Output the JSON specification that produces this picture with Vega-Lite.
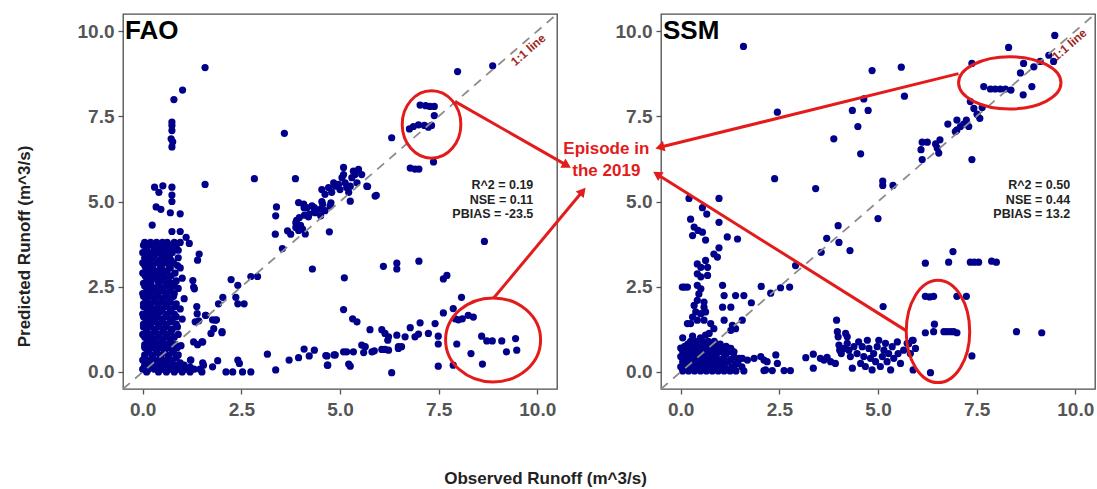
{
"$schema":"https://vega.github.io/schema/vega-lite/v6.json",
"background":"white",
"padding":{"left":14,"top":12,"right":2,"bottom":0},
"bounds":"flush",
"spacing":104,
"config":{
 "font":"Liberation Sans",
 "view":{"stroke":"#4d4d4d","strokeWidth":1.3,"fill":"white"},
 "axis":{"domain":false,"grid":false,"tickColor":"#555","tickSize":5,"tickWidth":1.3,"labelColor":"#555","labelFontSize":19,"labelFont":"Liberation Sans","labelFontWeight":"bold","labelFlush":false,"labelOverlap":false,"titleFont":"Liberation Sans","titleFontSize":17,"titleFontWeight":"bold","titleColor":"#222"},
 "axisX":{"labelPadding":6},
 "axisY":{"labelPadding":4}
},
"datasets":{
"fao":[
{"obs":1.58,"pred":8.93},{"obs":1.01,"pred":8.27},{"obs":0.79,"pred":7.99},{"obs":0.74,"pred":7.33},{"obs":0.74,"pred":7.23},{"obs":0.74,"pred":7.08},{"obs":0.72,"pred":6.84},{"obs":0.76,"pred":6.75},{"obs":0.74,"pred":6.6},{"obs":3.59,"pred":7.0},{"obs":2.83,"pred":5.67},{"obs":3.87,"pred":5.67},{"obs":1.58,"pred":5.5},{"obs":0.3,"pred":5.42},{"obs":0.51,"pred":5.46},{"obs":0.41,"pred":5.27},{"obs":0.74,"pred":5.42},{"obs":0.74,"pred":5.19},{"obs":0.74,"pred":5.0},
{"obs":7.98,"pred":8.81},{"obs":8.87,"pred":8.98},{"obs":7.03,"pred":7.83},{"obs":7.17,"pred":7.81},{"obs":7.28,"pred":7.79},{"obs":7.39,"pred":7.79},{"obs":7.39,"pred":7.52},{"obs":7.32,"pred":7.23},{"obs":7.24,"pred":7.18},{"obs":7.14,"pred":7.23},{"obs":6.99,"pred":7.25},{"obs":6.86,"pred":7.2},{"obs":6.76,"pred":7.13},{"obs":6.31,"pred":6.87},{"obs":7.37,"pred":6.16},{"obs":6.78,"pred":5.98},{"obs":6.9,"pred":5.95},{"obs":7.0,"pred":5.95},{"obs":5.7,"pred":5.44},{"obs":5.92,"pred":5.18},
{"obs":3.95,"pred":4.97},{"obs":4.08,"pred":4.92},{"obs":4.16,"pred":4.82},{"obs":4.29,"pred":4.87},{"obs":4.37,"pred":4.67},{"obs":4.5,"pred":4.77},{"obs":4.54,"pred":5.35},{"obs":4.62,"pred":5.21},{"obs":4.71,"pred":5.41},{"obs":4.79,"pred":5.27},{"obs":4.84,"pred":5.55},{"obs":4.88,"pred":5.45},{"obs":4.96,"pred":5.5},{"obs":5.0,"pred":5.35},{"obs":5.05,"pred":5.7},{"obs":5.09,"pred":5.79},{"obs":5.13,"pred":5.55},{"obs":5.17,"pred":5.41},{"obs":5.22,"pred":5.27},{"obs":5.26,"pred":5.45},{"obs":5.3,"pred":5.7},{"obs":5.34,"pred":5.89},{"obs":5.38,"pred":5.79},{"obs":5.43,"pred":5.55},{"obs":5.47,"pred":5.94},{"obs":5.55,"pred":5.79},{"obs":5.09,"pred":6.0},{"obs":5.26,"pred":5.01},{"obs":5.68,"pred":5.45},{"obs":5.89,"pred":5.16},{"obs":4.54,"pred":5.0},{"obs":4.62,"pred":4.73},{"obs":4.75,"pred":4.87},
{"obs":3.9,"pred":4.45},{"obs":4.0,"pred":4.3},{"obs":4.1,"pred":4.6},{"obs":3.95,"pred":4.15},{"obs":4.12,"pred":4.05},{"obs":4.2,"pred":4.55},{"obs":4.35,"pred":4.7},
{"obs":3.39,"pred":4.84},{"obs":3.37,"pred":4.58},{"obs":3.36,"pred":4.04},{"obs":3.54,"pred":3.62},{"obs":3.67,"pred":4.14},{"obs":3.75,"pred":4.04},{"obs":3.88,"pred":4.24},{"obs":3.97,"pred":4.53},{"obs":3.88,"pred":4.38},{"obs":4.05,"pred":4.19},{"obs":4.09,"pred":4.82},{"obs":4.22,"pred":4.63},{"obs":4.35,"pred":4.82},{"obs":4.51,"pred":4.58},{"obs":4.56,"pred":4.92},{"obs":4.77,"pred":4.96},{"obs":4.3,"pred":3.02},{"obs":4.73,"pred":4.11},
{"obs":0.34,"pred":4.84},{"obs":0.46,"pred":4.77},{"obs":0.7,"pred":4.67},{"obs":0.95,"pred":4.64},{"obs":0.24,"pred":4.31},{"obs":0.74,"pred":4.12},{"obs":0.95,"pred":4.12},{"obs":1.1,"pred":3.95},{"obs":1.18,"pred":3.77},{"obs":1.43,"pred":3.46},{"obs":1.39,"pred":3.28},{"obs":1.27,"pred":2.68},{"obs":1.31,"pred":2.44},{"obs":1.05,"pred":2.15},{"obs":1.37,"pred":1.92},{"obs":1.29,"pred":2.49},{"obs":1.38,"pred":1.71},{"obs":1.33,"pred":1.47},{"obs":1.42,"pred":1.5},{"obs":1.29,"pred":0.88},{"obs":1.5,"pred":0.88},{"obs":1.59,"pred":1.66},{"obs":1.84,"pred":1.52},{"obs":1.8,"pred":1.27},{"obs":2.01,"pred":1.15},{"obs":1.21,"pred":0.35},{"obs":1.54,"pred":0.2},
{"obs":2.24,"pred":2.71},{"obs":2.41,"pred":2.54},{"obs":2.74,"pred":2.8},{"obs":2.91,"pred":2.8},{"obs":2.03,"pred":2.19},{"obs":1.92,"pred":2.0},{"obs":2.36,"pred":2.19},{"obs":2.41,"pred":2.0},{"obs":2.57,"pred":2.0},{"obs":1.6,"pred":1.66},{"obs":1.77,"pred":1.53},{"obs":1.87,"pred":1.53},{"obs":1.73,"pred":1.13},{"obs":2.01,"pred":1.18},{"obs":1.52,"pred":0.88},{"obs":1.39,"pred":0.8},{"obs":0.97,"pred":0.77},
{"obs":1.22,"pred":0.35},{"obs":1.52,"pred":0.27},{"obs":1.77,"pred":0.15},{"obs":1.9,"pred":0.33},{"obs":2.11,"pred":0.0},{"obs":2.28,"pred":0.0},{"obs":2.41,"pred":0.35},{"obs":2.45,"pred":0.25},{"obs":2.53,"pred":0.0},{"obs":2.74,"pred":0.0},{"obs":3.37,"pred":0.06},{"obs":3.16,"pred":0.52},{"obs":3.71,"pred":0.35},{"obs":3.95,"pred":0.42},{"obs":4.09,"pred":0.67},{"obs":4.22,"pred":0.47},{"obs":4.35,"pred":0.64},{"obs":4.64,"pred":0.48},{"obs":4.68,"pred":0.2},{"obs":4.85,"pred":0.5},
{"obs":8.66,"pred":3.83},{"obs":6.1,"pred":3.1},{"obs":6.44,"pred":3.19},{"obs":6.44,"pred":3.02},{"obs":7.0,"pred":3.25},{"obs":5.11,"pred":2.76},{"obs":7.62,"pred":2.73},{"obs":7.71,"pred":2.83},{"obs":8.08,"pred":2.19},{"obs":5.09,"pred":1.83},{"obs":5.32,"pred":1.56},{"obs":5.43,"pred":1.47},{"obs":5.76,"pred":1.24},
{"obs":6.06,"pred":1.24},{"obs":6.14,"pred":1.13},{"obs":6.23,"pred":1.03},{"obs":6.21,"pred":0.93},{"obs":6.44,"pred":1.08},{"obs":6.48,"pred":0.74},{"obs":6.56,"pred":0.74},{"obs":6.65,"pred":1.03},{"obs":6.78,"pred":1.3},{"obs":6.9,"pred":1.03},{"obs":6.99,"pred":1.11},{"obs":7.03,"pred":1.44},{"obs":7.24,"pred":1.13},{"obs":7.41,"pred":1.42},{"obs":7.49,"pred":1.05},{"obs":7.49,"pred":0.82},{"obs":7.62,"pred":1.73},{"obs":7.87,"pred":1.86},{"obs":7.92,"pred":1.56},{"obs":8.0,"pred":1.53},{"obs":8.1,"pred":1.56},{"obs":8.25,"pred":1.66},{"obs":8.38,"pred":1.61},{"obs":7.96,"pred":0.82},
{"obs":8.59,"pred":1.05},{"obs":8.72,"pred":0.91},{"obs":8.86,"pred":0.91},{"obs":9.1,"pred":0.91},{"obs":9.45,"pred":0.98},{"obs":8.32,"pred":0.54},{"obs":8.61,"pred":0.23},{"obs":9.22,"pred":0.59},{"obs":9.48,"pred":0.64},
{"obs":5.09,"pred":0.59},{"obs":5.17,"pred":0.59},{"obs":5.34,"pred":0.59},{"obs":5.55,"pred":0.79},{"obs":5.64,"pred":0.74},{"obs":5.6,"pred":0.57},{"obs":5.81,"pred":0.59},{"obs":5.87,"pred":0.62},{"obs":6.06,"pred":0.66},{"obs":6.14,"pred":0.66},{"obs":6.23,"pred":0.64},{"obs":6.48,"pred":0.69},{"obs":7.49,"pred":0.17},{"obs":7.87,"pred":0.2},{"obs":5.26,"pred":0.17},{"obs":5.22,"pred":0.23},{"obs":6.31,"pred":-0.02},{"obs":4.67,"pred":0.47},{"obs":4.69,"pred":0.2},{"obs":4.88,"pred":0.5},
{"obs":0.05,"pred":3.8},{"obs":0.2,"pred":3.8},{"obs":0.35,"pred":3.8},{"obs":0.5,"pred":3.8},{"obs":0.62,"pred":3.8},{"obs":0.8,"pred":3.8},{"obs":0.95,"pred":3.8},
{"obs":0.1,"pred":3.65},{"obs":0.3,"pred":3.65},{"obs":0.45,"pred":3.65},{"obs":0.7,"pred":3.65},{"obs":0.85,"pred":3.65},
{"obs":0.0,"pred":3.5},{"obs":0.15,"pred":3.5},{"obs":0.4,"pred":3.5},{"obs":0.55,"pred":3.5},{"obs":0.75,"pred":3.5},
{"obs":0.05,"pred":3.35},{"obs":0.25,"pred":3.35},{"obs":0.5,"pred":3.35},{"obs":0.65,"pred":3.35},{"obs":0.9,"pred":3.35},
{"obs":0.0,"pred":3.2},{"obs":0.12,"pred":3.2},{"obs":0.35,"pred":3.2},{"obs":0.6,"pred":3.2},{"obs":0.78,"pred":3.2},
{"obs":0.08,"pred":3.05},{"obs":0.22,"pred":3.05},{"obs":0.45,"pred":3.05},{"obs":0.7,"pred":3.05},{"obs":0.95,"pred":3.05},
{"obs":0.0,"pred":2.9},{"obs":0.18,"pred":2.9},{"obs":0.38,"pred":2.9},{"obs":0.55,"pred":2.9},{"obs":0.82,"pred":2.9},
{"obs":0.1,"pred":2.75},{"obs":0.3,"pred":2.75},{"obs":0.5,"pred":2.75},{"obs":0.65,"pred":2.75},{"obs":1.0,"pred":2.75},
{"obs":0.02,"pred":2.6},{"obs":0.2,"pred":2.6},{"obs":0.42,"pred":2.6},{"obs":0.6,"pred":2.6},{"obs":0.75,"pred":2.6},
{"obs":0.12,"pred":2.45},{"obs":0.3,"pred":2.45},{"obs":0.52,"pred":2.45},{"obs":0.7,"pred":2.45},{"obs":0.9,"pred":2.45},
{"obs":0.0,"pred":2.3},{"obs":0.2,"pred":2.3},{"obs":0.38,"pred":2.3},{"obs":0.6,"pred":2.3},{"obs":0.8,"pred":2.3},
{"obs":0.08,"pred":2.15},{"obs":0.28,"pred":2.15},{"obs":0.48,"pred":2.15},{"obs":0.68,"pred":2.15},
{"obs":0.02,"pred":2.0},{"obs":0.18,"pred":2.0},{"obs":0.4,"pred":2.0},{"obs":0.58,"pred":2.0},{"obs":0.85,"pred":2.0},
{"obs":0.1,"pred":1.85},{"obs":0.3,"pred":1.85},{"obs":0.5,"pred":1.85},{"obs":0.72,"pred":1.85},{"obs":0.95,"pred":1.85},
{"obs":0.0,"pred":1.7},{"obs":0.2,"pred":1.7},{"obs":0.38,"pred":1.7},{"obs":0.62,"pred":1.7},{"obs":0.8,"pred":1.7},
{"obs":0.08,"pred":1.55},{"obs":0.28,"pred":1.55},{"obs":0.48,"pred":1.55},{"obs":0.7,"pred":1.55},{"obs":1.0,"pred":1.55},
{"obs":0.02,"pred":1.4},{"obs":0.18,"pred":1.4},{"obs":0.4,"pred":1.4},{"obs":0.6,"pred":1.4},{"obs":0.85,"pred":1.4},
{"obs":0.1,"pred":1.25},{"obs":0.3,"pred":1.25},{"obs":0.52,"pred":1.25},{"obs":0.75,"pred":1.25},
{"obs":0.0,"pred":1.1},{"obs":0.2,"pred":1.1},{"obs":0.42,"pred":1.1},{"obs":0.62,"pred":1.1},{"obs":0.9,"pred":1.1},
{"obs":0.12,"pred":0.95},{"obs":0.3,"pred":0.95},{"obs":0.5,"pred":0.95},{"obs":0.7,"pred":0.95},
{"obs":0.05,"pred":0.8},{"obs":0.22,"pred":0.8},{"obs":0.4,"pred":0.8},{"obs":0.6,"pred":0.8},{"obs":0.82,"pred":0.8},
{"obs":0.15,"pred":0.65},{"obs":0.35,"pred":0.65},{"obs":0.55,"pred":0.65},{"obs":0.75,"pred":0.65},
{"obs":0.05,"pred":0.5},{"obs":0.25,"pred":0.5},{"obs":0.45,"pred":0.5},{"obs":0.65,"pred":0.5},{"obs":0.9,"pred":0.5},
{"obs":0.0,"pred":0.35},{"obs":0.15,"pred":0.35},{"obs":0.35,"pred":0.35},{"obs":0.55,"pred":0.35},{"obs":0.75,"pred":0.35},
{"obs":0.05,"pred":0.2},{"obs":0.25,"pred":0.2},{"obs":0.45,"pred":0.2},{"obs":0.65,"pred":0.2},{"obs":0.85,"pred":0.2},{"obs":1.05,"pred":0.2},
{"obs":0.0,"pred":0.08},{"obs":0.15,"pred":0.08},{"obs":0.3,"pred":0.08},{"obs":0.5,"pred":0.08},{"obs":0.7,"pred":0.08},{"obs":0.9,"pred":0.08},{"obs":1.1,"pred":0.08},{"obs":1.3,"pred":0.08},{"obs":1.45,"pred":0.08},
{"obs":0.1,"pred":0.0},{"obs":0.4,"pred":0.0},{"obs":0.6,"pred":0.0},{"obs":0.8,"pred":0.0},{"obs":1.0,"pred":0.0},{"obs":1.2,"pred":0.0},{"obs":1.5,"pred":0.0},
{"obs":0.02,"pred":3.72},{"obs":0.25,"pred":3.72},{"obs":0.55,"pred":3.72},{"obs":0.75,"pred":3.72},
{"obs":0.08,"pred":3.57},{"obs":0.28,"pred":3.57},{"obs":0.5,"pred":3.57},{"obs":0.65,"pred":3.57},{"obs":0.9,"pred":3.57},
{"obs":0.1,"pred":3.42},{"obs":0.3,"pred":3.42},{"obs":0.48,"pred":3.42},{"obs":0.68,"pred":3.42},
{"obs":0.18,"pred":3.27},{"obs":0.42,"pred":3.27},{"obs":0.55,"pred":3.27},{"obs":0.72,"pred":3.27},
{"obs":0.05,"pred":3.12},{"obs":0.25,"pred":3.12},{"obs":0.48,"pred":3.12},{"obs":0.68,"pred":3.12},{"obs":0.88,"pred":3.12},
{"obs":0.12,"pred":2.97},{"obs":0.3,"pred":2.97},{"obs":0.5,"pred":2.97},{"obs":0.62,"pred":2.97},
{"obs":0.06,"pred":2.82},{"obs":0.25,"pred":2.82},{"obs":0.45,"pred":2.82},{"obs":0.72,"pred":2.82},
{"obs":0.15,"pred":2.67},{"obs":0.38,"pred":2.67},{"obs":0.55,"pred":2.67},{"obs":0.85,"pred":2.67},
{"obs":0.05,"pred":2.52},{"obs":0.22,"pred":2.52},{"obs":0.4,"pred":2.52},{"obs":0.62,"pred":2.52},{"obs":0.8,"pred":2.52},
{"obs":0.1,"pred":2.37},{"obs":0.3,"pred":2.37},{"obs":0.48,"pred":2.37},{"obs":0.7,"pred":2.37},
{"obs":0.02,"pred":2.22},{"obs":0.18,"pred":2.22},{"obs":0.38,"pred":2.22},{"obs":0.58,"pred":2.22},{"obs":0.78,"pred":2.22},
{"obs":0.1,"pred":2.07},{"obs":0.3,"pred":2.07},{"obs":0.5,"pred":2.07},{"obs":0.7,"pred":2.07},
{"obs":0.02,"pred":1.92},{"obs":0.2,"pred":1.92},{"obs":0.4,"pred":1.92},{"obs":0.62,"pred":1.92},{"obs":0.82,"pred":1.92},
{"obs":0.12,"pred":1.77},{"obs":0.28,"pred":1.77},{"obs":0.45,"pred":1.77},{"obs":0.7,"pred":1.77},
{"obs":0.02,"pred":1.62},{"obs":0.18,"pred":1.62},{"obs":0.38,"pred":1.62},{"obs":0.58,"pred":1.62},{"obs":0.85,"pred":1.62},
{"obs":0.12,"pred":1.47},{"obs":0.3,"pred":1.47},{"obs":0.5,"pred":1.47},{"obs":0.75,"pred":1.47},
{"obs":0.02,"pred":1.32},{"obs":0.2,"pred":1.32},{"obs":0.42,"pred":1.32},{"obs":0.62,"pred":1.32},{"obs":0.88,"pred":1.32},
{"obs":0.1,"pred":1.17},{"obs":0.32,"pred":1.17},{"obs":0.52,"pred":1.17},{"obs":0.72,"pred":1.17},
{"obs":0.05,"pred":1.02},{"obs":0.22,"pred":1.02},{"obs":0.4,"pred":1.02},{"obs":0.6,"pred":1.02},{"obs":0.8,"pred":1.02},
{"obs":0.15,"pred":0.87},{"obs":0.32,"pred":0.87},{"obs":0.5,"pred":0.87},{"obs":0.7,"pred":0.87},
{"obs":0.05,"pred":0.72},{"obs":0.25,"pred":0.72},{"obs":0.45,"pred":0.72},{"obs":0.65,"pred":0.72},{"obs":0.88,"pred":0.72},
{"obs":0.12,"pred":0.57},{"obs":0.35,"pred":0.57},{"obs":0.55,"pred":0.57},{"obs":0.78,"pred":0.57},
{"obs":0.05,"pred":0.42},{"obs":0.25,"pred":0.42},{"obs":0.45,"pred":0.42},{"obs":0.65,"pred":0.42},{"obs":0.85,"pred":0.42},
{"obs":0.1,"pred":0.27},{"obs":0.3,"pred":0.27},{"obs":0.5,"pred":0.27},{"obs":0.7,"pred":0.27},{"obs":0.95,"pred":0.27},
{"obs":0.05,"pred":0.14},{"obs":0.2,"pred":0.14},{"obs":0.4,"pred":0.14},{"obs":0.6,"pred":0.14},{"obs":0.78,"pred":0.14},{"obs":0.98,"pred":0.14},{"obs":1.2,"pred":0.14}
],
"ssm":[
{"obs":1.59,"pred":9.55},{"obs":9.48,"pred":9.87},{"obs":8.31,"pred":9.52},{"obs":7.38,"pred":9.05},{"obs":8.69,"pred":9.05},{"obs":8.95,"pred":8.95},{"obs":9.11,"pred":9.11},{"obs":9.33,"pred":9.29},{"obs":9.45,"pred":9.11},{"obs":8.61,"pred":8.77},{"obs":7.68,"pred":8.37},{"obs":7.85,"pred":8.3},{"obs":7.97,"pred":8.3},{"obs":8.1,"pred":8.3},{"obs":8.23,"pred":8.3},{"obs":8.37,"pred":8.27},{"obs":8.68,"pred":8.13},{"obs":8.9,"pred":8.37},
{"obs":7.34,"pred":7.93},{"obs":7.43,"pred":7.73},{"obs":7.51,"pred":7.56},{"obs":7.58,"pred":7.44},{"obs":7.64,"pred":7.76},{"obs":7.38,"pred":6.23},{"obs":7.0,"pred":7.39},{"obs":7.09,"pred":7.2},{"obs":7.17,"pred":7.27},{"obs":7.24,"pred":7.39},{"obs":7.3,"pred":7.2},{"obs":7.0,"pred":7.1},{"obs":6.96,"pred":7.05},{"obs":6.77,"pred":7.27},
{"obs":6.12,"pred":6.74},{"obs":6.25,"pred":6.74},{"obs":6.46,"pred":6.69},{"obs":6.57,"pred":6.81},{"obs":6.5,"pred":6.57},{"obs":6.09,"pred":6.52},{"obs":6.12,"pred":6.23},{"obs":6.54,"pred":6.42},
{"obs":5.59,"pred":8.94},{"obs":4.85,"pred":8.84},{"obs":5.67,"pred":8.09},{"obs":4.64,"pred":8.01},{"obs":4.35,"pred":7.67},{"obs":4.75,"pred":7.67},{"obs":4.49,"pred":7.2},{"obs":3.88,"pred":6.84},{"obs":4.56,"pred":6.4},{"obs":2.45,"pred":7.62},{"obs":2.38,"pred":5.67},{"obs":3.42,"pred":5.38},{"obs":5.12,"pred":5.6},{"obs":5.12,"pred":5.47},{"obs":5.38,"pred":5.47},{"obs":5.0,"pred":4.5},{"obs":3.99,"pred":4.29},{"obs":4.01,"pred":3.8},{"obs":4.29,"pred":3.56},{"obs":3.7,"pred":3.92},{"obs":3.56,"pred":3.51},{"obs":2.91,"pred":3.12},{"obs":2.53,"pred":2.47},{"obs":2.76,"pred":2.49},{"obs":2.28,"pred":2.31},{"obs":2.04,"pred":2.51},{"obs":1.79,"pred":2.03},{"obs":5.13,"pred":1.92},
{"obs":6.2,"pred":3.19},{"obs":6.79,"pred":3.22},{"obs":6.9,"pred":3.53},{"obs":7.34,"pred":3.22},{"obs":7.44,"pred":3.22},{"obs":7.55,"pred":3.22},{"obs":7.88,"pred":3.25},{"obs":8.0,"pred":3.22},
{"obs":6.2,"pred":2.22},{"obs":6.31,"pred":2.2},{"obs":6.41,"pred":2.22},{"obs":7.0,"pred":2.22},{"obs":7.24,"pred":2.22},
{"obs":6.2,"pred":1.15},{"obs":6.41,"pred":1.18},{"obs":6.43,"pred":1.4},{"obs":6.67,"pred":1.18},{"obs":6.75,"pred":1.18},{"obs":6.84,"pred":1.18},{"obs":6.92,"pred":1.18},{"obs":7.0,"pred":1.15},{"obs":6.33,"pred":-0.02},{"obs":7.38,"pred":0.47},{"obs":8.51,"pred":1.18},{"obs":9.15,"pred":1.15},{"obs":5.87,"pred":0.93},{"obs":5.78,"pred":0.83},
{"obs":0.21,"pred":5.09},{"obs":0.97,"pred":5.09},{"obs":0.55,"pred":4.82},{"obs":0.66,"pred":4.63},{"obs":0.97,"pred":4.39},{"obs":0.25,"pred":4.48},{"obs":0.34,"pred":4.25},{"obs":0.44,"pred":4.15},{"obs":0.55,"pred":4.1},{"obs":0.3,"pred":4.0},{"obs":0.63,"pred":3.87},{"obs":1.18,"pred":3.96},{"obs":1.44,"pred":3.9},{"obs":0.97,"pred":3.64},{"obs":0.84,"pred":3.46},{"obs":0.93,"pred":3.37},
{"obs":0.42,"pred":3.17},{"obs":0.51,"pred":3.07},{"obs":0.63,"pred":3.27},{"obs":0.68,"pred":3.07},{"obs":0.42,"pred":2.88},{"obs":0.51,"pred":2.79},{"obs":0.68,"pred":2.83},{"obs":0.42,"pred":2.54},{"obs":0.51,"pred":2.44},{"obs":0.46,"pred":2.29},{"obs":0.42,"pred":2.1},{"obs":0.59,"pred":2.05},{"obs":0.34,"pred":1.95},{"obs":0.59,"pred":1.9},{"obs":0.38,"pred":1.76},{"obs":0.51,"pred":1.71},{"obs":0.63,"pred":1.76},{"obs":0.3,"pred":1.61},{"obs":0.42,"pred":1.52},{"obs":0.59,"pred":1.52},
{"obs":0.04,"pred":2.49},{"obs":0.17,"pred":2.49},{"obs":0.1,"pred":2.49},{"obs":0.17,"pred":1.42},{"obs":0.25,"pred":1.42},
{"obs":1.06,"pred":2.54},{"obs":1.1,"pred":2.24},{"obs":1.06,"pred":1.9},{"obs":1.27,"pred":1.9},{"obs":1.1,"pred":1.52},{"obs":1.31,"pred":1.37},{"obs":1.27,"pred":1.22},{"obs":1.39,"pred":1.27},{"obs":1.56,"pred":1.52},{"obs":1.39,"pred":2.24},{"obs":1.6,"pred":2.24},
{"obs":1.69,"pred":0.35},{"obs":1.86,"pred":0.4},{"obs":2.03,"pred":0.45},{"obs":2.11,"pred":0.35},{"obs":2.15,"pred":0.06},{"obs":2.19,"pred":0.3},{"obs":2.41,"pred":0.5},{"obs":2.45,"pred":0.25},{"obs":2.62,"pred":0.04},{"obs":2.78,"pred":0.04},{"obs":2.11,"pred":0.04},{"obs":2.32,"pred":0.04},{"obs":1.22,"pred":0.69},{"obs":1.35,"pred":0.59},{"obs":1.56,"pred":0.4},{"obs":1.44,"pred":0.25},
{"obs":3.17,"pred":0.42},{"obs":3.36,"pred":0.52},{"obs":3.36,"pred":0.11},{"obs":3.54,"pred":0.4},{"obs":3.63,"pred":0.35},{"obs":3.71,"pred":0.43},{"obs":3.8,"pred":0.3},{"obs":3.92,"pred":0.25},{"obs":3.95,"pred":1.52},{"obs":3.97,"pred":1.18},{"obs":3.99,"pred":1.03},{"obs":4.01,"pred":0.79},{"obs":4.03,"pred":0.64},{"obs":4.07,"pred":0.54},{"obs":4.14,"pred":0.69},{"obs":4.22,"pred":0.84},{"obs":4.26,"pred":0.64},{"obs":4.3,"pred":0.45},{"obs":4.35,"pred":0.11},{"obs":4.39,"pred":0.74},{"obs":4.47,"pred":0.54},{"obs":4.51,"pred":0.88},{"obs":4.56,"pred":0.25},{"obs":4.6,"pred":0.74},{"obs":4.64,"pred":0.45},{"obs":4.68,"pred":0.16},{"obs":4.73,"pred":0.93},{"obs":4.77,"pred":0.69},{"obs":4.81,"pred":0.4},{"obs":4.85,"pred":0.06},{"obs":4.89,"pred":0.54},{"obs":4.94,"pred":0.3},{"obs":4.98,"pred":0.74},{"obs":5.02,"pred":0.93},{"obs":5.06,"pred":0.16},{"obs":5.11,"pred":0.45},{"obs":5.15,"pred":0.64},{"obs":5.19,"pred":0.84},{"obs":5.23,"pred":0.3},{"obs":5.27,"pred":0.54},{"obs":5.32,"pred":0.06},{"obs":5.36,"pred":0.74},{"obs":5.4,"pred":0.4},{"obs":5.49,"pred":0.88},{"obs":5.51,"pred":0.54},{"obs":5.57,"pred":0.25},{"obs":5.65,"pred":0.64},{"obs":5.74,"pred":0.84},{"obs":5.82,"pred":0.54},{"obs":5.89,"pred":0.93},{"obs":5.95,"pred":0.69},{"obs":5.89,"pred":0.06},{"obs":4.18,"pred":1.13},{"obs":4.22,"pred":1.03},
{"obs":0.25,"pred":0.9},{"obs":0.4,"pred":0.9},{"obs":0.55,"pred":0.9},{"obs":0.7,"pred":0.9},{"obs":0.85,"pred":0.9},
{"obs":0.1,"pred":0.75},{"obs":0.3,"pred":0.75},{"obs":0.45,"pred":0.75},{"obs":0.6,"pred":0.75},{"obs":0.75,"pred":0.75},{"obs":0.95,"pred":0.75},{"obs":1.15,"pred":0.75},
{"obs":0.05,"pred":0.6},{"obs":0.2,"pred":0.6},{"obs":0.35,"pred":0.6},{"obs":0.5,"pred":0.6},{"obs":0.65,"pred":0.6},{"obs":0.8,"pred":0.6},{"obs":1.0,"pred":0.6},{"obs":1.25,"pred":0.6},
{"obs":0.0,"pred":0.45},{"obs":0.15,"pred":0.45},{"obs":0.3,"pred":0.45},{"obs":0.45,"pred":0.45},{"obs":0.6,"pred":0.45},{"obs":0.75,"pred":0.45},{"obs":0.9,"pred":0.45},{"obs":1.1,"pred":0.45},{"obs":1.35,"pred":0.45},
{"obs":0.05,"pred":0.3},{"obs":0.2,"pred":0.3},{"obs":0.35,"pred":0.3},{"obs":0.5,"pred":0.3},{"obs":0.65,"pred":0.3},{"obs":0.8,"pred":0.3},{"obs":0.95,"pred":0.3},{"obs":1.2,"pred":0.3},{"obs":1.45,"pred":0.3},
{"obs":0.0,"pred":0.15},{"obs":0.12,"pred":0.15},{"obs":0.28,"pred":0.15},{"obs":0.42,"pred":0.15},{"obs":0.58,"pred":0.15},{"obs":0.72,"pred":0.15},{"obs":0.88,"pred":0.15},{"obs":1.05,"pred":0.15},{"obs":1.3,"pred":0.15},{"obs":1.55,"pred":0.15},
{"obs":0.05,"pred":0.03},{"obs":0.2,"pred":0.03},{"obs":0.35,"pred":0.03},{"obs":0.5,"pred":0.03},{"obs":0.65,"pred":0.03},{"obs":0.8,"pred":0.03},{"obs":0.95,"pred":0.03},{"obs":1.1,"pred":0.03},{"obs":1.25,"pred":0.03},{"obs":1.4,"pred":0.03},{"obs":1.6,"pred":0.03},
{"obs":0.0,"pred":0.7},{"obs":0.05,"pred":1.0},{"obs":0.3,"pred":1.05},{"obs":0.5,"pred":1.0},{"obs":0.72,"pred":1.13},{"obs":0.84,"pred":1.27},{"obs":0.63,"pred":1.08},{"obs":0.76,"pred":1.42},{"obs":1.27,"pred":0.69},{"obs":1.48,"pred":0.4},
{"obs":0.18,"pred":0.82},{"obs":0.35,"pred":0.82},{"obs":0.5,"pred":0.82},{"obs":0.65,"pred":0.82},{"obs":0.8,"pred":0.82},{"obs":1.0,"pred":0.82},
{"obs":0.12,"pred":0.67},{"obs":0.28,"pred":0.67},{"obs":0.42,"pred":0.67},{"obs":0.55,"pred":0.67},{"obs":0.7,"pred":0.67},{"obs":0.88,"pred":0.67},{"obs":1.1,"pred":0.67},
{"obs":0.1,"pred":0.52},{"obs":0.25,"pred":0.52},{"obs":0.42,"pred":0.52},{"obs":0.58,"pred":0.52},{"obs":0.72,"pred":0.52},{"obs":0.9,"pred":0.52},{"obs":1.15,"pred":0.52},
{"obs":0.08,"pred":0.37},{"obs":0.25,"pred":0.37},{"obs":0.42,"pred":0.37},{"obs":0.58,"pred":0.37},{"obs":0.7,"pred":0.37},{"obs":0.85,"pred":0.37},{"obs":1.05,"pred":0.37},{"obs":1.28,"pred":0.37},
{"obs":0.1,"pred":0.22},{"obs":0.25,"pred":0.22},{"obs":0.42,"pred":0.22},{"obs":0.58,"pred":0.22},{"obs":0.72,"pred":0.22},{"obs":0.88,"pred":0.22},{"obs":1.1,"pred":0.22},{"obs":1.38,"pred":0.22},
{"obs":0.1,"pred":0.09},{"obs":0.28,"pred":0.09},{"obs":0.42,"pred":0.09},{"obs":0.58,"pred":0.09},{"obs":0.72,"pred":0.09},{"obs":0.88,"pred":0.09},{"obs":1.02,"pred":0.09},{"obs":1.18,"pred":0.09}
]
},
"hconcat":[
{
 "width":434,"height":375,
 "encoding":{
  "x":{"field":"obs","type":"quantitative","scale":{"domain":[-0.5,10.5],"nice":false,"zero":false},"axis":{"title":"Observed Runoff (m^3/s)","values":[0,2.5,5,7.5,10],"format":".1f","titleX":422,"titleY":94,"titleBaseline":"alphabetic"}},
  "y":{"field":"pred","type":"quantitative","scale":{"domain":[-0.5,10.5],"nice":false,"zero":false},"axis":{"title":"Predicted Runoff (m^3/s)","values":[0,2.5,5,7.5,10],"format":".1f","titleX":-94,"titleY":232,"titleBaseline":"alphabetic"}}
 },
 "layer":[
  {"data":{"name":"fao"},"mark":{"type":"circle","size":52,"color":"#00008B","opacity":1}},
  {"data":{"values":[{"obs":-0.5,"pred":-0.5,"obs2":10.5,"pred2":10.5}]},"mark":{"type":"rule","color":"#8c8c8c","strokeWidth":1.8,"strokeDash":[9,7]},"encoding":{"x2":{"field":"obs2"},"y2":{"field":"pred2"}}},
  {"data":{"values":[{"obs":7.32,"pred":7.26}]},"mark":{"type":"point","shape":"M -0.87 0 A 0.87 1 0 1 0 0.87 0 A 0.87 1 0 1 0 -0.87 0 Z","size":4543,"filled":false,"color":"#e31b1b","strokeWidth":3,"opacity":1}},
  {"data":{"values":[{"obs":8.88,"pred":0.94}]},"mark":{"type":"point","shape":"M -1 0 A 1 0.884 0 1 0 1 0 A 1 0.884 0 1 0 -1 0 Z","size":9025,"filled":false,"color":"#e31b1b","strokeWidth":3,"opacity":1}},
  {"data":{"values":[{"obs":7.92,"pred":7.93,"obs2":10.75,"pred2":6.06},{"obs":8.89,"pred":2.16,"obs2":11.15,"pred2":5.3}]},"mark":{"type":"rule","color":"#e31b1b","strokeWidth":3},"encoding":{"x2":{"field":"obs2"},"y2":{"field":"pred2"}}},
  {"data":{"values":[{"obs":10.75,"pred":6.06}]},"mark":{"type":"point","shape":"triangle-up","size":110,"filled":true,"color":"#e31b1b","opacity":1,"angle":120}},
  {"data":{"values":[{"obs":11.15,"pred":5.3}]},"mark":{"type":"point","shape":"triangle-up","size":110,"filled":true,"color":"#e31b1b","opacity":1,"angle":40}},
  {"data":{"values":[{"obs":-0.45,"pred":10.0,"label":"FAO"}]},"mark":{"type":"text","align":"left","baseline":"middle","fontSize":26,"fontWeight":"bold","color":"#000"},"encoding":{"text":{"field":"label"}}},
  {"data":{"values":[{"obs":9.77,"pred":9.45,"label":"1:1 line"}]},"mark":{"type":"text","align":"center","baseline":"middle","fontSize":12,"fontWeight":"bold","color":"#9b2a24","angle":319},"encoding":{"text":{"field":"label"}}},
  {"data":{"values":[{"obs":9.9,"pred":5.48,"label":"R^2 = 0.19"},{"obs":9.9,"pred":5.04,"label":"NSE = 0.11"},{"obs":9.9,"pred":4.64,"label":"PBIAS = -23.5"}]},"mark":{"type":"text","align":"right","baseline":"middle","fontSize":12.5,"fontWeight":"bold","color":"#222"},"encoding":{"text":{"field":"label"}}},
  {"data":{"values":[{"obs":11.75,"pred":6.53,"label":"Episode in"},{"obs":11.75,"pred":5.89,"label":"the 2019"}]},"mark":{"type":"text","align":"center","baseline":"middle","fontSize":17,"fontWeight":"bold","color":"#e31b1b"},"encoding":{"text":{"field":"label"}}}
 ]
},
{
 "width":434,"height":375,
 "encoding":{
  "x":{"field":"obs","type":"quantitative","scale":{"domain":[-0.5,10.5],"nice":false,"zero":false},"axis":{"title":null,"values":[0,2.5,5,7.5,10],"format":".1f"}},
  "y":{"field":"pred","type":"quantitative","scale":{"domain":[-0.5,10.5],"nice":false,"zero":false},"axis":{"title":null,"values":[0,2.5,5,7.5,10],"format":".1f"}}
 },
 "layer":[
  {"data":{"name":"ssm"},"mark":{"type":"circle","size":52,"color":"#00008B","opacity":1}},
  {"data":{"values":[{"obs":-0.5,"pred":-0.5,"obs2":10.5,"pred2":10.5}]},"mark":{"type":"rule","color":"#8c8c8c","strokeWidth":1.8,"strokeDash":[9,7]},"encoding":{"x2":{"field":"obs2"},"y2":{"field":"pred2"}}},
  {"data":{"values":[{"obs":8.34,"pred":8.48}]},"mark":{"type":"point","shape":"M -1 0 A 1 0.51 0 1 0 1 0 A 1 0.51 0 1 0 -1 0 Z","size":10486,"filled":false,"color":"#e31b1b","strokeWidth":3,"opacity":1}},
  {"data":{"values":[{"obs":6.52,"pred":1.19}]},"mark":{"type":"point","shape":"M -0.62 0 A 0.62 1 0 1 0 0.62 0 A 0.62 1 0 1 0 -0.62 0 Z","size":10486,"filled":false,"color":"#e31b1b","strokeWidth":3,"opacity":1}},
  {"data":{"values":[{"obs":7.04,"pred":8.75,"obs2":-0.53,"pred2":6.59},{"obs":5.7,"pred":1.22,"obs2":-0.6,"pred2":5.8}]},"mark":{"type":"rule","color":"#e31b1b","strokeWidth":3},"encoding":{"x2":{"field":"obs2"},"y2":{"field":"pred2"}}},
  {"data":{"values":[{"obs":-0.53,"pred":6.59}]},"mark":{"type":"point","shape":"triangle-up","size":110,"filled":true,"color":"#e31b1b","opacity":1,"angle":256}},
  {"data":{"values":[{"obs":-0.6,"pred":5.8}]},"mark":{"type":"point","shape":"triangle-up","size":110,"filled":true,"color":"#e31b1b","opacity":1,"angle":302}},
  {"data":{"values":[{"obs":-0.45,"pred":10.0,"label":"SSM"}]},"mark":{"type":"text","align":"left","baseline":"middle","fontSize":26,"fontWeight":"bold","color":"#000"},"encoding":{"text":{"field":"label"}}},
  {"data":{"values":[{"obs":9.85,"pred":9.6,"label":"1:1 line"}]},"mark":{"type":"text","align":"center","baseline":"middle","fontSize":12,"fontWeight":"bold","color":"#9b2a24","angle":319},"encoding":{"text":{"field":"label"}}},
  {"data":{"values":[{"obs":9.87,"pred":5.48,"label":"R^2 = 0.50"},{"obs":9.87,"pred":5.04,"label":"NSE = 0.44"},{"obs":9.87,"pred":4.64,"label":"PBIAS = 13.2"}]},"mark":{"type":"text","align":"right","baseline":"middle","fontSize":12.5,"fontWeight":"bold","color":"#222"},"encoding":{"text":{"field":"label"}}}
 ]
}
]
}
